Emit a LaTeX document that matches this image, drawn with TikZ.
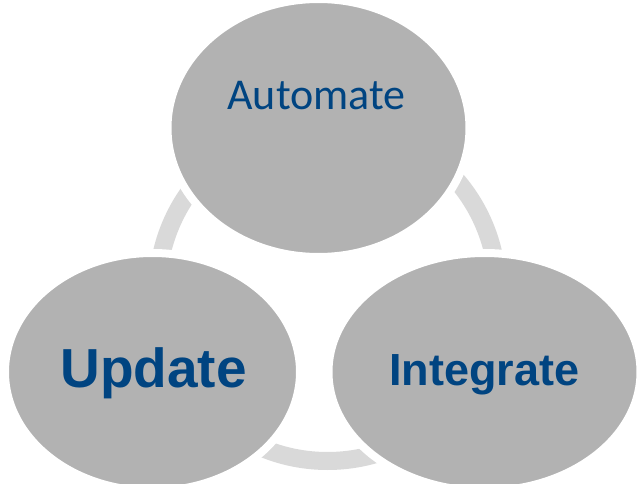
\documentclass[tikz,border=0pt]{standalone}
\usepackage{fontspec}
\setmainfont{Carlito}
\newfontfamily\arialfont{Liberation Sans}
\usetikzlibrary{shapes.geometric}
\definecolor{ballc}{RGB}{178,178,178}
\definecolor{ringc}{RGB}{217,217,217}
\definecolor{txtc}{RGB}{0,68,129}
\begin{document}
\begin{tikzpicture}[x=1pt,y=-1pt,
  ball/.style={ellipse, fill=ballc, draw=white, line width=8pt, inner sep=0pt},
  lbl/.style={text=txtc, anchor=base, inner sep=0pt}]
\useasboundingbox (0,0) rectangle (641,484);
\clip (0,0) rectangle (641,484);
\fill[white] (0,0) rectangle (641,484);
\coordinate (rc) at (327.5,291);
\draw[ringc, line width=18pt] (rc) circle[radius=170pt];
\node[ball, minimum width=302pt, minimum height=258pt] (top) at (318.5,128) {};
\node[ball, minimum width=295pt, minimum height=238pt] (left) at (152.5,372) {};
\node[ball, minimum width=312pt, minimum height=238pt] (right) at (484.5,372) {};
\node[lbl, font=\fontsize{44}{44}\selectfont] (t1) at (316.5,110) {Automate};
\node[lbl, font=\arialfont\bfseries\fontsize{55}{55}\selectfont] (t2) at (153.6,388) {Update};
\node[lbl, font=\arialfont\bfseries\fontsize{45}{45}\selectfont] (t3) at (484.5,385) {Integrate};
\end{tikzpicture}
\end{document}
